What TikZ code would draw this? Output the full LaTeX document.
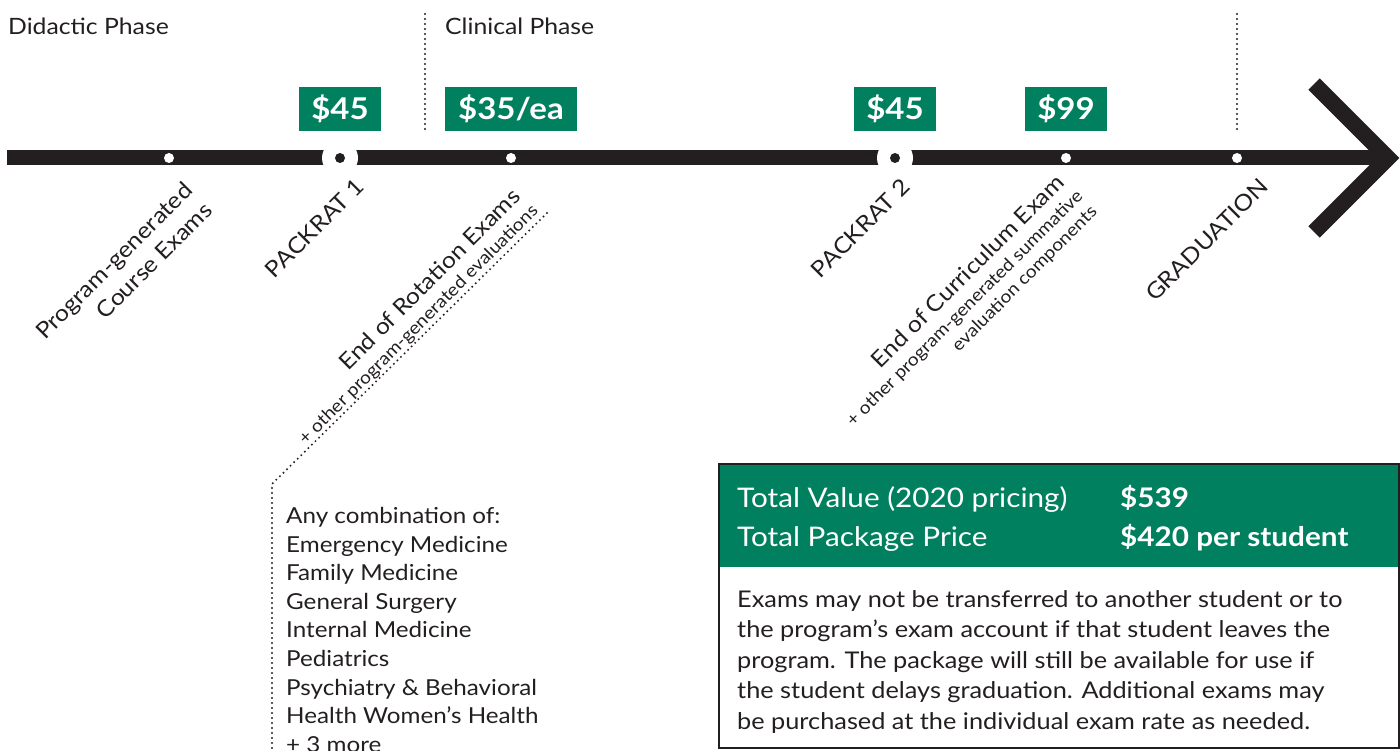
\documentclass[tikz,border=0pt]{standalone}
\usepackage{fontspec}
\setmainfont{Lato}[FakeStretch=1.1]
\definecolor{ink}{HTML}{231F20}
\definecolor{pgreen}{HTML}{00805F}
\tikzset{
  lbl/.style={rotate=45, anchor=base east, inner sep=0, text=ink, font=\fontsize{22.5}{26}\selectfont},
  sublbl/.style={lbl, font=\fontsize{17.5}{20}\selectfont},
  price/.style={fill=pgreen, text=white, inner sep=0, minimum height=44, font=\bfseries\fontsize{30}{30}\selectfont},
  wdot/.style={circle, fill=white, inner sep=0, minimum size=10},
  bdot/.style={circle, fill=ink, inner sep=0, minimum size=10},
  ring/.style={circle, fill=white, inner sep=0, minimum size=36},
  dotline/.style={ink, line width=2.2, dash pattern=on 0pt off 5pt, line cap=round},
  phase/.style={anchor=base west, inner sep=0, text=ink, font=\fontsize{22.5}{26}\selectfont},
  hdr/.style={anchor=base west, inner sep=0, text=white, font=\fontsize{27}{30}\selectfont},
  hdrb/.style={hdr, font=\bfseries\fontsize{27}{30}\selectfont},
}
\begin{document}
\begin{tikzpicture}[x=1pt,y=-1pt]
\useasboundingbox (0,0) rectangle (1400,751);

% phase labels
\node[phase] (didactic) at (8,35) {Didactic Phase};
\node[phase] (clinical) at (445,35) {Clinical Phase};

% phase separators
\coordinate (s1top) at (425,14);
\coordinate (s1bot) at (425,131);
\coordinate (s2top) at (1237,14);
\coordinate (s2bot) at (1237,131);
\draw[dotline] (s1top) -- (s1bot);
\draw[dotline] (s2top) -- (s2bot);

% timeline
\coordinate (tstart) at (7,158);
\coordinate (tend) at (1386,158);
\draw[ink, line width=15] (tstart) -- (tend);
\coordinate (chtop) at (1314,84);
\coordinate (chtip) at (1388,158);
\coordinate (chbot) at (1314,232);
\draw[ink, line width=16, miter limit=10] (chtop) -- (chtip) -- (chbot);

% markers
\node[wdot] (m1) at (169,158) {};
\node[ring] (r1) at (340,158) {};
\node[bdot] (m2) at (340,158) {};
\node[wdot] (m3) at (511,158) {};
\node[ring] (r2) at (895,158) {};
\node[bdot] (m4) at (895,158) {};
\node[wdot] (m5) at (1066,158) {};
\node[wdot] (m6) at (1237,158) {};

% prices
\node[price, minimum width=82] (p1) at (340,109) {\$45};
\node[price, minimum width=132] (p2) at (511,109) {\$35/ea};
\node[price, minimum width=82] (p3) at (895,109) {\$45};
\node[price, minimum width=82] (p4) at (1066,109) {\$99};

% rotated labels
\node[lbl] (l1a) at (194,192) {Program-generated};
\node[lbl] (l1b) at (214,212) {Course Exams};
\node[lbl] (l2) at (366,188) {PACKRAT 1};
\node[lbl] (l3a) at (522,198) {End of Rotation Exams};
\node[sublbl] (l3b) at (539,212) {+ other program-generated evaluations};
\node[lbl] (l4) at (912,188) {PACKRAT 2};
\node[lbl] (l5a) at (1066,184) {End of Curriculum Exam};
\node[sublbl] (l5b) at (1084,197) {+ other program-generated summative};
\node[sublbl] (l5c) at (1098,213) {evaluation components};
\node[lbl] (l6) at (1270,188) {GRADUATION};

% rotation connector
\coordinate (rotEnd) at (547,213);
\coordinate (bend) at (272,484);
\coordinate (listBottom) at (272,751);
\draw[dotline] (rotEnd) -- (bend) -- (listBottom);

\node[anchor=north west, inner sep=0, align=left, text=ink, font=\fontsize{22}{28.6}\selectfont] (list) at (286,507)
{Any combination of:\\Emergency Medicine\\Family Medicine\\General Surgery\\Internal Medicine\\Pediatrics\\Psychiatry \& Behavioral\\Health Women’s Health\\+ 3 more};

% package box
\node[fill=pgreen, inner sep=0, minimum width=680, minimum height=104, anchor=north west] (hdrband) at (718,463) {};
\node[draw=ink, line width=2, inner sep=0, minimum width=680, minimum height=284, anchor=north west] (pkg) at (718,463) {};
\node[hdr] (tv) at (737,507) {Total Value (2020 pricing)};
\node[hdr] (tp) at (737,546) {Total Package Price};
\node[hdrb] (v1) at (1120,507) {\$539};
\node[hdrb] (v2) at (1120,546) {\$420 per student};
\node[anchor=north west, inner sep=0, align=left, text=ink, font=\fontsize{23}{30.5}\selectfont] (note) at (737,590)
{Exams may not be transferred to another student or to\\the program’s exam account if that student leaves the\\program. The package will still be available for use if\\the student delays graduation. Additional exams may\\be purchased at the individual exam rate as needed.};
\end{tikzpicture}
\end{document}
